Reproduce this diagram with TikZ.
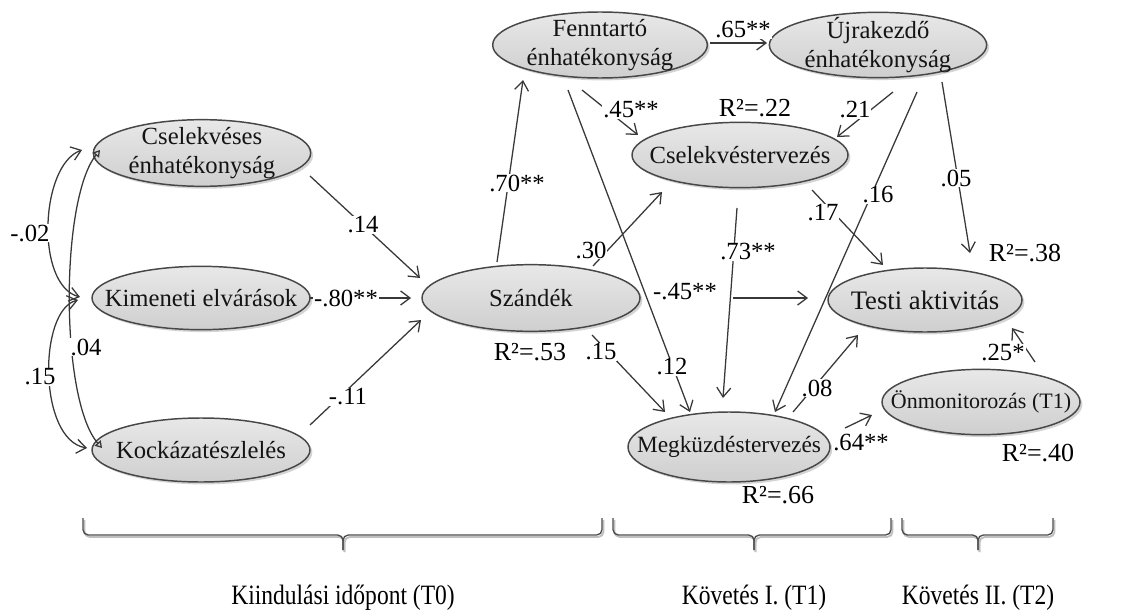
\documentclass[tikz,border=0pt]{standalone}
\usepackage{fontspec}
\setmainfont{Liberation Serif}
\usetikzlibrary{arrows.meta,calc,shapes.geometric,shadows}

\begin{document}
\begin{tikzpicture}[x=0.75pt,y=-0.75pt,
  ell/.style={ellipse, draw=black!72, line width=1.1pt, top color=gray!18, bottom color=gray!38,
    inner sep=0pt, drop shadow={shadow xshift=1.8pt, shadow yshift=-1.8pt, opacity=0.28, fill=black!60}},
  etxt/.style={font=\fontsize{18.5}{21.5}\selectfont, align=center, inner sep=0pt, text=black!92},
  conn/.style={draw=black!78, line width=0.95pt, -{Straight Barb[length=7pt,width=10.5pt]}},
  cov/.style={draw=black!78, line width=0.95pt,
    {Straight Barb[length=7pt,width=10.5pt]}-{Straight Barb[length=7pt,width=10.5pt]}},
  covt/.style={draw=black!78, line width=0.95pt,
    {Triangle[open,length=5pt,width=6pt]}-{Triangle[open,length=5pt,width=6pt]}},
  coef/.style={font=\fontsize{18.5}{21}\selectfont, fill=white, inner sep=0.8pt},
  rsq/.style={font=\fontsize{19.5}{22}\selectfont, inner sep=0pt},
  brc/.style={draw=black!70, line width=1pt, rounded corners=4pt},
  brcshade/.style={draw=black!25, line width=1.4pt, rounded corners=4pt},
  period/.style={font=\fontsize{21}{24}\selectfont, xscale=0.84, inner sep=0pt},
]
% canvas
\useasboundingbox (0,0) rectangle (1126,613);
\fill[white] (0,0) rectangle (1126,613);

% latent variables
\node[ell, minimum width=163pt,   minimum height=50pt]   (Cs) at (202,153) {};
\node[ell, minimum width=163.5pt, minimum height=47.5pt] (Ki) at (201,298) {};
\node[ell, minimum width=163.5pt, minimum height=48pt]   (Ko) at (201,450) {};
\node[ell, minimum width=163.5pt, minimum height=50pt]   (Sz) at (531,298) {};
\node[ell, minimum width=161pt,   minimum height=49.5pt] (Fe) at (600,45) {};
\node[ell, minimum width=163pt,   minimum height=49pt]   (Uj) at (878,45) {};
\node[ell, minimum width=162pt,   minimum height=49pt]   (Ct) at (740,155) {};
\node[ell, minimum width=145.5pt, minimum height=48pt]   (Ta) at (925,300) {};
\node[ell, minimum width=151.5pt, minimum height=52.5pt] (Me) at (729,447) {};
\node[ell, minimum width=148.5pt, minimum height=49pt]   (On) at (981,402) {};

\node[etxt] (Cs-t) at (Cs) {Cselekvéses\\énhatékonyság};
\node[etxt] (Ki-t) at (Ki) {Kimeneti elvárások};
\node[etxt] (Ko-t) at (Ko) {Kockázatészlelés};
\node[etxt] (Sz-t) at (Sz) {Szándék};
\node[etxt] (Fe-t) at (Fe) {Fenntartó\\énhatékonyság};
\node[etxt] (Uj-t) at (Uj) {Újrakezdő\\énhatékonyság};
\node[etxt] (Ct-t) at (Ct) {Cselekvéstervezés};
\node[etxt, font=\fontsize{20}{23}\selectfont] (Ta-t) at (Ta) {Testi aktivitás};
\node[etxt, font=\fontsize{17.5}{20}\selectfont] (Me-t) at (Me) {Megküzdéstervezés};
\node[etxt, font=\fontsize{16.5}{19}\selectfont] (On-t) at (On) {Önmonitorozás (T1)};

% directed paths
\draw[conn] ($(Cs)+(108,23)$)  -- ($(Sz)+(-111,-20)$);
\draw[conn] ($(Ki)+(109,0)$)   -- ($(Sz)+(-120,0)$);
\draw[conn] ($(Ko)+(109,-25)$) -- ($(Sz)+(-110,22)$);
\draw[conn] ($(Sz)+(-34,-36)$) -- ($(Fe)+(-77,35)$);
\draw[conn] ($(Sz)+(62,-32)$)  -- ($(Ct)+(-78,37)$);
\draw[conn] ($(Sz)+(61,37)$)   -- ($(Me)+(-64,-35)$);
\draw[conn] ($(Sz)+(202,0)$)   -- ($(Ta)+(-117,-2)$);
\draw[conn] ($(Fe)+(110,-2)$)  -- ($(Uj)+(-111,-2)$);
\draw[conn] ($(Fe)+(-18,45)$)  -- ($(Ct)+(-102,-20)$);
\draw[conn] ($(Fe)+(-32,45)$)  -- ($(Me)+(-39,-35)$);
\draw[conn] ($(Uj)+(15,47)$)   -- ($(Ct)+(97,-18)$);
\draw[conn] ($(Uj)+(39,47)$)   -- ($(Me)+(46,-35)$);
\draw[conn] ($(Uj)+(64,37)$)   -- ($(Ta)+(45,-47)$);
\draw[conn] ($(Ct)+(72,35)$)   -- ($(Ta)+(-42,-35)$);
\draw[conn] ($(Ct)+(-3,53)$)   -- ($(Me)+(-6,-49)$);
\draw[conn] ($(Me)+(64,-35)$)  -- ($(Ta)+(-67,35)$);
\draw[conn] ($(Me)+(116,-19)$) -- ($(On)+(-109,13)$);
\draw[conn] ($(On)+(54,-40)$)  -- ($(Ta)+(87,28)$);

% correlations among the baseline predictors
\draw[cov]  ($(Cs)+(-120,-3)$) .. controls (40,165) and (35,285) .. ($(Ki)+(-121,-1)$);
\draw[cov]  ($(Ki)+(-123,2)$)  .. controls (38,310) and (38,440) .. ($(Ko)+(-114,-2)$);
\draw[covt] ($(Cs)+(-102,-3)$) .. controls (60,200) and (60,400) .. ($(Ko)+(-99,-2)$);

% path coefficients
\node[coef] (l14)  at (363,225) {.14};
\node[coef] (l80)  at (346,298) {-.80**};
\node[coef] (l11)  at (348,397) {-.11};
\node[coef] (l70)  at (517,183) {.70**};
\node[coef] (l30)  at (591,250) {.30};
\node[coef] (l15)  at (601,352) {.15};
\node[coef] (l65)  at (743,30)  {.65**};
\node[coef] (l45a) at (631,110) {.45**};
\node[coef] (l12)  at (672,367) {.12};
\node[coef] (l45b) at (685,292) {-.45**};
\node[coef] (l21)  at (855,110) {.21};
\node[coef] (l16)  at (878,195) {.16};
\node[coef] (l05)  at (956,178) {.05};
\node[coef] (l17)  at (823,213) {.17};
\node[coef] (l73)  at (748,252) {.73**};
\node[coef] (l08)  at (817,388) {.08};
\node[coef] (l64)  at (861,443) {.64**};
\node[coef] (l25)  at (1003,353) {.25*};
\node[coef] (l02)  at (30,233)  {-.02};
\node[coef] (l04)  at (86,347)  {.04};
\node[coef] (l15c) at (40,377)  {.15};

% explained variance
\node[rsq] (r53) at (530,352)  {R²=.53};
\node[rsq] (r22) at (755,108)  {R²=.22};
\node[rsq] (r38) at (1025,253) {R²=.38};
\node[rsq] (r66) at (778,495)  {R²=.66};
\node[rsq] (r40) at (1038,453) {R²=.40};

% measurement occasions
\foreach \l/\t/\r in {83/343/602, 613/754/891, 902/978/1053}{
  \draw[brcshade] (\l+1.5,520) |- (\t+1.5,537) -- (\t+1.5,552);
  \draw[brcshade] (\r+1.5,520) |- (\t+1.5,537) -- (\t+1.5,552);
  \draw[brc] (\l,518) |- (\t,535) -- (\t,550);
  \draw[brc] (\r,518) |- (\t,535) -- (\t,550);
}
\node[period] (t0) at (343,598) {Kiindulási időpont (T0)};
\node[period] (t1) at (754,598) {Követés I. (T1)};
\node[period] (t2) at (978,598) {Követés II. (T2)};
\end{tikzpicture}
\end{document}
